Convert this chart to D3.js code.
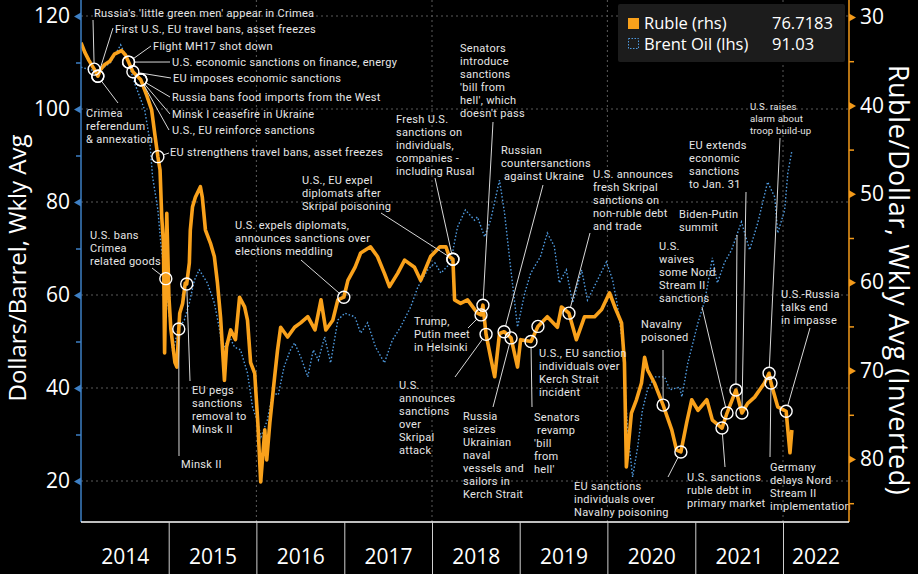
<!DOCTYPE html>
<html><head><meta charset="utf-8">
<script src="https://cdn.jsdelivr.net/npm/d3@7"></script>
<style>html,body{margin:0;padding:0;background:#000;} svg{display:block;}</style>
</head><body>
<svg id="chart" width="918" height="574"></svg>
<script>
// ---------------- DATA ----------------
const rubleSeries = [
["2014-01-01",32.9],["2014-01-17",34.0],["2014-02-03",34.9],["2014-02-25",35.9],["2014-03-12",36.7],["2014-03-22",36.0],["2014-04-09",35.4],["2014-05-01",35.0],["2014-05-20",34.2],["2014-06-19",33.8],["2014-07-05",34.3],["2014-07-18",35.1],["2014-08-05",36.2],["2014-09-07",37.1],["2014-10-02",38.9],["2014-10-22",40.5],["2014-11-04",43.2],["2014-11-17",45.8],["2014-11-26",47.3],["2014-12-03",52.6],["2014-12-10",55.5],["2014-12-15",68.0],["2014-12-20",59.6],["2014-12-24",52.2],
["2015-01-02",61.7],["2015-01-10",65.3],["2015-01-27",69.1],["2015-02-04",69.6],["2015-02-12",65.3],["2015-02-16",63.5],["2015-02-28",62.4],["2015-03-11",60.1],["2015-03-17",60.2],["2015-03-28",57.8],["2015-04-01",54.1],["2015-04-10",51.5],["2015-04-22",50.4],["2015-05-13",49.2],["2015-05-21",50.4],["2015-06-03",54.1],["2015-06-24",55.6],["2015-07-10",57.1],["2015-07-23",60.1],["2015-08-05",64.0],["2015-08-21",71.1],["2015-08-30",67.3],["2015-09-16",65.4],["2015-10-06",66.5],["2015-10-23",61.7],["2015-11-13",62.8],["2015-11-25",64.3],["2015-12-08",69.1],["2015-12-25",70.3],
["2016-01-07",75.9],["2016-01-19",82.6],["2016-02-05",76.7],["2016-02-13",80.1],["2016-02-26",75.9],["2016-03-17",70.7],["2016-03-29",67.7],["2016-04-11",65.1],["2016-05-10",66.2],["2016-06-08",65.1],["2016-07-03",64.6],["2016-08-02",63.9],["2016-09-01",65.4],["2016-09-26",62.0],["2016-10-16",65.4],["2016-11-14",64.3],["2016-12-05",62.0],["2016-12-30",61.7],
["2017-01-16",59.8],["2017-02-15",58.3],["2017-03-10",56.7],["2017-04-20",56.0],["2017-05-19",57.1],["2017-06-17",59.0],["2017-07-08",60.5],["2017-08-11",59.0],["2017-09-09",57.5],["2017-10-20",58.3],["2017-11-15",59.8],["2017-12-26",57.1],
["2018-02-03",56.0],["2018-02-28",56.0],["2018-03-14",57.1],["2018-03-29",57.4],["2018-04-05",62.0],["2018-04-30",62.4],["2018-05-29",62.0],["2018-07-09",63.5],["2018-07-24",63.7],["2018-08-01",62.6],["2018-08-14",65.9],["2018-09-02",68.5],["2018-09-19",70.7],["2018-10-09",65.8],["2018-10-28",65.6],["2018-11-26",66.3],["2018-12-23",69.6],
["2019-01-05",66.5],["2019-02-17",66.7],["2019-03-18",65.0],["2019-04-26",63.9],["2019-06-07",65.1],["2019-06-24",62.8],["2019-07-25",63.5],["2019-08-25",66.5],["2019-09-28",63.9],["2019-11-09",63.9],["2019-12-08",63.1],
["2020-01-10",61.2],["2020-02-01",62.8],["2020-02-29",64.6],["2020-03-12",69.1],["2020-03-20",80.9],["2020-04-10",74.8],["2020-05-01",73.3],["2020-05-22",71.4],["2020-06-04",68.5],["2020-06-16",69.9],["2020-07-15",71.4],["2020-08-20",73.9],["2020-09-25",76.7],["2020-10-15",79.0],["2020-11-02",79.2],["2020-11-26",75.9],["2020-12-17",73.3],
["2021-01-12",74.5],["2021-02-18",73.3],["2021-03-13",75.6],["2021-04-22",76.5],["2021-05-13",74.8],["2021-06-19",72.2],["2021-07-14",74.8],["2021-08-07",73.7],["2021-09-05",73.0],["2021-10-16",71.4],["2021-11-04",70.3],["2021-11-12",71.4],["2021-12-10",74.1],
["2022-01-14",74.6],["2022-01-30",79.3],["2022-02-07",76.7183]
];
const brentSeries = [
["2014-01-01",109.0],["2014-02-11",108.4],["2014-03-23",108.4],["2014-05-04",110.0],["2014-06-15",113.8],["2014-07-14",110.5],["2014-08-12",105.6],["2014-09-23",99.8],["2014-10-14",93.3],["2014-10-26",85.4],["2014-11-17",78.3],["2014-11-29",71.2],["2014-12-19",62.6],
["2015-01-10",52.5],["2015-01-18",47.5],["2015-02-08",52.5],["2015-03-07",54.6],["2015-03-28",58.3],["2015-04-18",63.2],["2015-05-08",65.4],["2015-06-11",62.6],["2015-07-10",58.3],["2015-08-01",52.5],["2015-08-13",48.2],["2015-09-12",51.0],["2015-10-02",48.8],["2015-10-27",48.2],["2015-11-25",43.2],["2015-12-16",35.9],
["2016-01-07",32.5],["2016-01-20",29.5],["2016-02-15",33.0],["2016-03-10",39.0],["2016-04-01",38.5],["2016-04-25",44.5],["2016-05-20",48.0],["2016-06-08",49.7],["2016-07-05",46.5],["2016-08-02",42.4],["2016-08-25",48.2],["2016-09-15",46.0],["2016-10-11",51.0],["2016-11-05",45.4],["2016-12-05",54.6],
["2017-01-03",56.1],["2017-02-14",55.3],["2017-03-10",51.8],["2017-04-08",54.0],["2017-05-11",48.8],["2017-06-17",45.4],["2017-07-20",50.3],["2017-08-23",53.1],["2017-10-04",57.4],["2017-11-03",61.7],["2017-12-14",65.4],
["2018-01-13",66.9],["2018-02-07",64.7],["2018-03-19",66.9],["2018-04-17",74.6],["2018-05-20",78.3],["2018-06-27",76.1],["2018-07-09",76.8],["2018-08-08",72.5],["2018-09-02",76.1],["2018-10-09",84.7],["2018-10-30",77.6],["2018-11-24",66.0],["2018-12-23",53.1],
["2019-01-22",60.4],["2019-02-16",64.7],["2019-03-28",68.2],["2019-04-26",73.3],["2019-05-25",70.5],["2019-06-15",62.6],["2019-07-14",65.4],["2019-08-09",58.3],["2019-09-16",65.4],["2019-10-10",58.9],["2019-11-17",62.8],["2019-12-28",67.1],
["2020-01-23",63.2],["2020-02-13",57.4],["2020-03-04",49.7],["2020-03-25",31.0],["2020-04-15",20.9],["2020-05-06",27.3],["2020-05-26",35.3],["2020-06-16",39.6],["2020-07-15",42.4],["2020-08-26",42.4],["2020-09-17",39.6],["2020-10-28",40.2],["2020-11-06",38.1],["2020-12-01",45.4],
["2021-01-12",54.0],["2021-02-10",58.9],["2021-03-13",68.0],["2021-04-03",62.6],["2021-05-02",66.9],["2021-06-01",69.7],["2021-07-12",75.7],["2021-08-15",69.7],["2021-09-18",75.5],["2021-10-29",84.3],["2021-11-28",81.0],["2021-12-10",73.3],
["2022-01-08",78.3],["2022-01-21",86.2],["2022-02-07",91.03]
];
const yearLabels = ["2014","2015","2016","2017","2018","2019","2020","2021","2022"];
const leftTicks = [20,40,60,80,100,120];
const leftMinor = [30,50,70,90,110];
const rightTicks = [30,40,50,60,70,80];
const rightMinor = [35,45,55,65,75,85];
const legendNames = ["Ruble (rhs)","Brent Oil (lhs)"];
const legendValues = ["76.7183","91.03"];
const eventDates = ["2014-02-25","2014-03-12","2014-03-12","2014-07-18","2014-07-18","2014-08-05","2014-09-07","2014-09-07","2014-09-07","2014-11-17","2014-12-20","2015-02-12","2015-03-17","2016-12-30","2018-03-29","2018-03-29","2018-08-01","2018-07-24","2018-08-14","2018-10-28","2018-11-26","2019-02-17","2019-03-18","2019-07-25","2020-08-20","2020-11-02","2021-04-22","2021-05-13","2021-06-19","2021-07-14","2021-11-04","2021-11-12","2022-01-14"];
const eventRuble = [35.9,36.7,36.7,35.1,35.1,36.2,37.1,37.1,37.1,45.8,59.6,65.3,60.2,61.7,57.4,57.4,62.6,63.7,65.9,65.6,66.3,66.7,65.0,63.5,73.9,79.2,76.5,74.8,72.2,74.8,70.3,71.4,74.6];
const eventLabels = [
["Russia's 'little green men' appear in Crimea"],
["Crimea","referendum","& annexation"],
["First U.S., EU travel bans, asset freezes"],
["Flight MH17 shot down"],
["U.S. economic sanctions on finance, energy"],
["EU imposes economic sanctions"],
["Russia bans food imports from the West"],
["Minsk I ceasefire in Ukraine"],
["U.S., EU reinforce sanctions"],
["EU strengthens travel bans, asset freezes"],
["U.S. bans","Crimea","related goods"],
["Minsk II"],
["EU pegs","sanctions","removal to","Minsk II"],
["U.S. expels diplomats,","announces sanctions over","elections meddling"],
["U.S., EU expel","diplomats after","Skripal poisoning"],
["Fresh U.S.","sanctions on","individuals,","companies -","including Rusal"],
["Senators","introduce","sanctions","'bill from","hell', which","doesn't pass"],
["Trump,","Putin meet","in Helsinki"],
["U.S.","announces","sanctions","over","Skripal","attack"],
["Russian","countersanctions"," against Ukraine"],
["Russia","seizes","Ukrainian","naval","vessels and","sailors in","Kerch Strait"],
["Senators"," revamp","'bill","from","hell'"],
["U.S., EU sanction","individuals over","Kerch Strait","incident"],
["U.S. announces","fresh Skripal","sanctions on","non-ruble debt","and trade"],
["Navalny","poisoned"],
["EU sanctions","individuals over","Navalny poisoning"],
["U.S. sanctions","ruble debt in","primary market"],
["U.S.","waives","some Nord","Stream II","sanctions"],
["Biden-Putin","summit"],
["EU extends","economic","sanctions","to Jan. 31"],
["U.S. raises","alarm about","troop build-up"],
["Germany","delays Nord","Stream II","implementation"],
["U.S.-Russia","talks end","in impasse"]
];
// label layout (pixel placement of annotation text and leader ends)
const labelLayout = [
{tx:94,ty:17,lx:93,ly:20},{tx:86,ty:117,lx:118,ly:103},{tx:115,ty:33,lx:113,ly:28},
{tx:153,ty:50,lx:151,ly:46},{tx:172,ty:66,lx:170,ly:62},{tx:173,ty:82,lx:171,ly:78},
{tx:172,ty:101,lx:170,ly:97},{tx:172,ty:118,lx:170,ly:114},{tx:172,ty:134,lx:169,ly:130},
{tx:170,ty:156,lx:169,ly:153},{tx:90,ty:239,lx:152,ly:268},{tx:181,ty:468,lx:179,ly:456},
{tx:192,ty:394,lx:190,ly:381},{tx:235,ty:229,lx:301,ly:260},{tx:302,ty:184,lx:381,ly:213},
{tx:396,ty:123,lx:435,ly:178},{tx:460,ty:52,lx:493,ly:122},{tx:414,ty:325,lx:468,ly:328},
{tx:399,ty:389,lx:455,ly:377},{tx:501,ty:154,lx:543,ly:185},{tx:463,ty:420,lx:493,ly:407},
{tx:534,ty:421,lx:532,ly:407},{tx:539,ty:357,lx:null,ly:null},{tx:593,ty:178,lx:590,ly:233},
{tx:641,ty:328,lx:663,ly:350},{tx:574,ty:490,lx:668,ly:477},{tx:687,ty:481,lx:725,ly:467},
{tx:659,ty:250,lx:702,ly:307},{tx:679,ty:218,lx:737,ly:235},{tx:689,ty:149,lx:746,ly:192},
{tx:750,ty:110,lx:780,ly:138,small:true},{tx:770,ty:471,lx:770,ly:457},{tx:781,ty:298,lx:810,ly:328}
];

// ---------------- CHART ----------------
const svg = d3.select("#chart");
svg.append("rect").attr("width",918).attr("height",574).attr("fill","#000");
const parse = d3.timeParse("%Y-%m-%d");
const L = 81, R = 849, T = 0, B = 522;
const x = d3.scaleTime().domain([new Date(2014,0,1), new Date(2022,0,1)]).range([L,783]);
const yL = d3.scaleLinear().domain([20,120]).range([481,16]);
const yR = d3.scaleLinear().domain([30,80]).range([17,459]);
const FONT = "'Open Sans', 'DejaVu Sans', sans-serif";
const AFONT = "Roboto, 'Liberation Sans', sans-serif";

svg.append("defs").append("clipPath").attr("id","clip")
  .append("rect").attr("x",L).attr("y",T).attr("width",R-L).attr("height",B-T);

// grid
const grid = svg.append("g");
grid.selectAll("line.h").data(leftTicks).join("line")
  .attr("x1",L).attr("x2",R).attr("y1",d=>yL(d)).attr("y2",d=>yL(d))
  .attr("stroke","#5a5a5a").attr("stroke-width",1).attr("stroke-dasharray","2,3");
const gridYears = [2016,2018,2020,2022].map(y=>new Date(y,0,1));
grid.selectAll("line.v").data(gridYears).join("line")
  .attr("x1",d=>x(d)).attr("x2",d=>x(d)).attr("y1",T).attr("y2",B)
  .attr("stroke","#5a5a5a").attr("stroke-width",1).attr("stroke-dasharray","2,3");

// lines
const plot = svg.append("g").attr("clip-path","url(#clip)");
const brentLine = d3.line().x(d=>x(parse(d[0]))).y(d=>yL(d[1]));
const rubleLine = d3.line().x(d=>x(parse(d[0]))).y(d=>yR(d[1]));
plot.append("path").datum(brentSeries).attr("d",brentLine)
  .attr("fill","none").attr("stroke","#4f9be0").attr("stroke-width",1.4).attr("stroke-dasharray","1.5,2");
plot.append("path").datum(rubleSeries).attr("d",rubleLine)
  .attr("fill","none").attr("stroke","#f9a11b").attr("stroke-width",3.6).attr("stroke-linejoin","round");

// annotations
const ann = svg.append("g");
const R0 = 6;
eventDates.forEach((d,i)=>{
  const cx = x(parse(d)), cy = yR(eventRuble[i]);
  const lay = labelLayout[i];
  if (lay.lx !== null) {
    const dx = lay.lx-cx, dy = lay.ly-cy, len = Math.hypot(dx,dy);
    ann.append("line").attr("x1",cx+dx/len*R0).attr("y1",cy+dy/len*R0)
      .attr("x2",lay.lx).attr("y2",lay.ly).attr("stroke","#d8d8d8").attr("stroke-width",1);
  }
  const fs = lay.small ? 9.6 : 11, lh = lay.small ? 12 : 13;
  const t = ann.append("text").attr("x",lay.tx).attr("y",lay.ty)
    .attr("fill","#e6e6e6").attr("font-family",AFONT).attr("font-size",fs+"px")
    .attr("letter-spacing", lay.small ? "0.15px" : "0.3px");
  eventLabels[i].forEach((line,k)=>{
    t.append("tspan").attr("x",lay.tx).attr("dy",k?lh:0).attr("xml:space","preserve").text(line);
  });
});
ann.selectAll("circle").data(eventDates).join("circle")
  .attr("cx",d=>x(parse(d))).attr("cy",(d,i)=>yR(eventRuble[i])).attr("r",R0)
  .attr("fill","none").attr("stroke","#fff").attr("stroke-width",1.4);

// left axis
const gL = svg.append("g").attr("transform",`translate(${L},0)`);
gL.append("line").attr("x1",0).attr("x2",0).attr("y1",T).attr("y2",B).attr("stroke","#3d7fc4").attr("stroke-width",1.5);
const axL = gL.append("g").call(d3.axisLeft(yL).tickValues(leftTicks).tickSize(0).tickPadding(11));
axL.select(".domain").remove();
axL.selectAll("text").attr("fill","#fff").attr("font-family",FONT).attr("font-size","21px");
axL.selectAll(".tick").append("path").attr("d","M0,-4L-7,0L0,4Z").attr("fill","#3d7fc4");
const axLm = gL.append("g").call(d3.axisLeft(yL).tickValues(leftMinor).tickSize(5).tickFormat(""));
axLm.select(".domain").remove();
axLm.selectAll("line").attr("stroke","#3d7fc4").attr("stroke-width",1.5);

// right axis
const gR = svg.append("g").attr("transform",`translate(${R},0)`);
gR.append("line").attr("x1",0).attr("x2",0).attr("y1",T).attr("y2",B).attr("stroke","#f39a1a").attr("stroke-width",1.5);
const axR = gR.append("g").call(d3.axisRight(yR).tickValues(rightTicks).tickSize(0).tickPadding(11));
axR.select(".domain").remove();
axR.selectAll("text").attr("fill","#fff").attr("font-family",FONT).attr("font-size","21px");
axR.selectAll(".tick").append("path").attr("d","M0,-4L7,0L0,4Z").attr("fill","#f39a1a");
const axRm = gR.append("g").call(d3.axisRight(yR).tickValues(rightMinor).tickSize(5).tickFormat(""));
axRm.select(".domain").remove();
axRm.selectAll("line").attr("stroke","#f39a1a").attr("stroke-width",1.5);

// bottom axis
const gB = svg.append("g").attr("transform",`translate(0,${B})`);
gB.append("line").attr("x1",L).attr("x2",R).attr("y1",0).attr("y2",0).attr("stroke","#fff").attr("stroke-width",1.5);
const yearStarts = yearLabels.slice(1).map(y=>new Date(+y,0,1));
const axB = gB.append("g").call(d3.axisBottom(x).tickValues(yearStarts).tickSize(52).tickFormat(""));
axB.select(".domain").remove();
axB.selectAll("line").attr("stroke","#cfcfcf").attr("stroke-width",1);
const yearMids = yearLabels.map(y=>new Date(+y,6,2));
const axB2 = gB.append("g").call(d3.axisBottom(x).tickValues(yearMids).tickSize(0).tickPadding(27)
   .tickFormat((d,i)=>yearLabels[i]));
axB2.select(".domain").remove();
axB2.selectAll("text").attr("fill","#fff").attr("font-family",FONT).attr("font-size","21px");
// the last year is only partly shown: centre its label in the visible span
axB2.selectAll(".tick").filter((d,i)=>i===8).attr("transform",`translate(${(783+R)/2},0)`);

// axis titles
svg.append("text").attr("transform","translate(26,268) rotate(-90)").attr("text-anchor","middle")
  .attr("fill","#fff").attr("font-family",FONT).attr("font-size","24px").text("Dollars/Barrel, Wkly Avg");
svg.append("text").attr("transform","translate(889,280) rotate(90)").attr("text-anchor","middle")
  .attr("fill","#fff").attr("font-family",FONT).attr("font-size","27px").attr("letter-spacing","0.6px")
  .text("Ruble/Dollar, Wkly Avg (Inverted)");

// legend
const lg = svg.append("g");
lg.append("rect").attr("x",618).attr("y",4).attr("width",227).attr("height",58).attr("rx",2).attr("fill","#1c1c1c");
lg.append("rect").attr("x",628).attr("y",18).attr("width",11).attr("height",11).attr("fill","#f9a11b");
lg.append("rect").attr("x",628.5).attr("y",38.5).attr("width",10).attr("height",10).attr("fill","none")
  .attr("stroke","#4f9be0").attr("stroke-width",1).attr("stroke-dasharray","1.5,1.5");
legendNames.forEach((n,i)=>{
  lg.append("text").attr("x",644).attr("y",29+i*21).attr("fill","#fff").attr("font-family",FONT).attr("font-size","16.5px").text(n);
  lg.append("text").attr("x",772).attr("y",29+i*21).attr("fill","#fff").attr("font-family",FONT).attr("font-size","16.5px").text(legendValues[i]);
});
</script>
</body></html>
